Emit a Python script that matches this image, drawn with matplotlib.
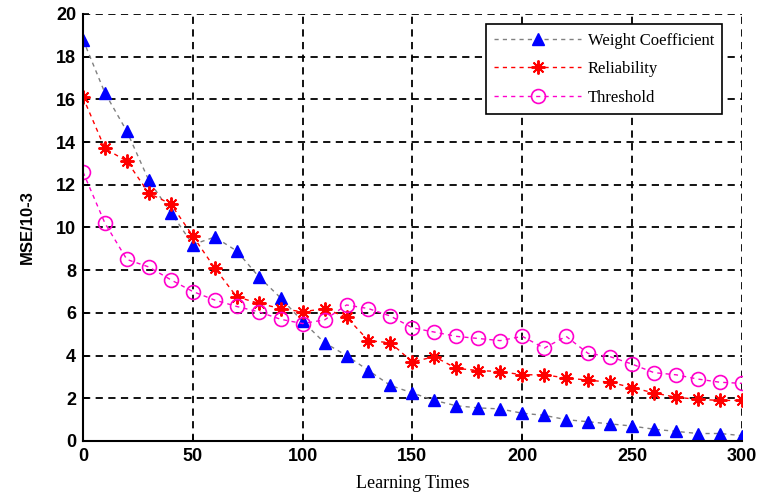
import matplotlib
matplotlib.use("Agg")
import matplotlib.pyplot as plt
import numpy as np

x = list(range(0, 301, 10))
weight = [18.8, 16.3, 14.5, 12.2, 10.7, 9.2, 9.55, 8.9, 7.7, 6.7, 5.6,
          4.6, 4.0, 3.3, 2.6, 2.25, 1.9, 1.65, 1.55, 1.5, 1.3,
          1.2, 1.0, 0.9, 0.8, 0.7, 0.55, 0.45, 0.35, 0.35, 0.25]
reliability = [16.1, 13.7, 13.1, 11.6, 11.1, 9.6, 8.1, 6.75, 6.45, 6.2, 6.05,
               6.2, 5.8, 4.7, 4.6, 3.7, 3.95, 3.4, 3.3, 3.25, 3.1,
               3.1, 2.95, 2.85, 2.75, 2.5, 2.25, 2.05, 1.95, 1.9, 1.9]
threshold = [12.6, 10.2, 8.5, 8.15, 7.55, 7.0, 6.6, 6.3, 6.05, 5.7, 5.5,
             5.67, 6.37, 6.2, 5.85, 5.3, 5.1, 4.9, 4.8, 4.7, 4.9,
             4.35, 4.9, 4.1, 3.95, 3.6, 3.2, 3.1, 2.9, 2.75, 2.7]
labels = ["Weight Coefficient", "Reliability", "Threshold"]
xticks = [0, 50, 100, 150, 200, 250, 300]
yticks = [0, 2, 4, 6, 8, 10, 12, 14, 16, 18, 20]

fig = plt.figure(figsize=(7.57, 4.98), dpi=100)
ax = fig.add_axes([0.1096, 0.1145, 0.8704, 0.8575])

ax.plot(x, weight, linestyle=(0, (3, 3)), color="#808080", lw=1.0,
        marker="^", markersize=9, markerfacecolor="#0000ff",
        markeredgecolor="#0000ff", label=labels[0])
ax.plot(x, reliability, linestyle=(0, (3, 3)), color="#ff0000", lw=1.0,
        marker=(8, 2, 0), markersize=10, markeredgewidth=1.4,
        markeredgecolor="#ff0000", label=labels[1])
ax.plot(x, threshold, linestyle=(0, (3, 3)), color="#ff00cc", lw=1.0,
        marker="o", markersize=10, markerfacecolor="none",
        markeredgecolor="#ff00cc", markeredgewidth=1.2, label=labels[2])

ax.set_xlim(0, 300)
ax.set_ylim(0, 20)
ax.set_xticks(xticks)
ax.set_yticks(yticks)
ax.grid(True, color="black", linestyle=(0, (4, 3)), linewidth=1.3)
for s in ["top", "right"]:
    ax.spines[s].set_visible(False)
for s in ["left", "bottom"]:
    ax.spines[s].set_linewidth(1.5)
ax.tick_params(direction="in", length=4, width=1.2, pad=5)
ax.set_xticklabels([str(v) for v in xticks], fontsize=13, fontweight="heavy",
                   family=["Liberation Sans", "DejaVu Sans"])
ax.set_yticklabels([str(v) for v in yticks], fontsize=13, fontweight="heavy",
                   family=["Liberation Sans", "DejaVu Sans"])
ax.set_ylabel("MSE/10-3", fontsize=12, fontweight="bold",
              family=["Liberation Sans", "DejaVu Sans"], labelpad=15)
ax.set_xlabel("Learning Times", fontsize=13,
              family=["Liberation Serif", "DejaVu Serif"], labelpad=7)

leg = ax.legend(loc="upper right", bbox_to_anchor=(0.983, 0.995),
                prop={"family": ["Liberation Serif", "DejaVu Serif"], "size": 12},
                frameon=True, fancybox=False, edgecolor="black",
                handlelength=5.2, borderpad=0.5, labelspacing=0.75,
                handletextpad=0.4, framealpha=1)
leg.get_frame().set_linewidth(1.2)

fig.savefig("out.png", dpi=100)
